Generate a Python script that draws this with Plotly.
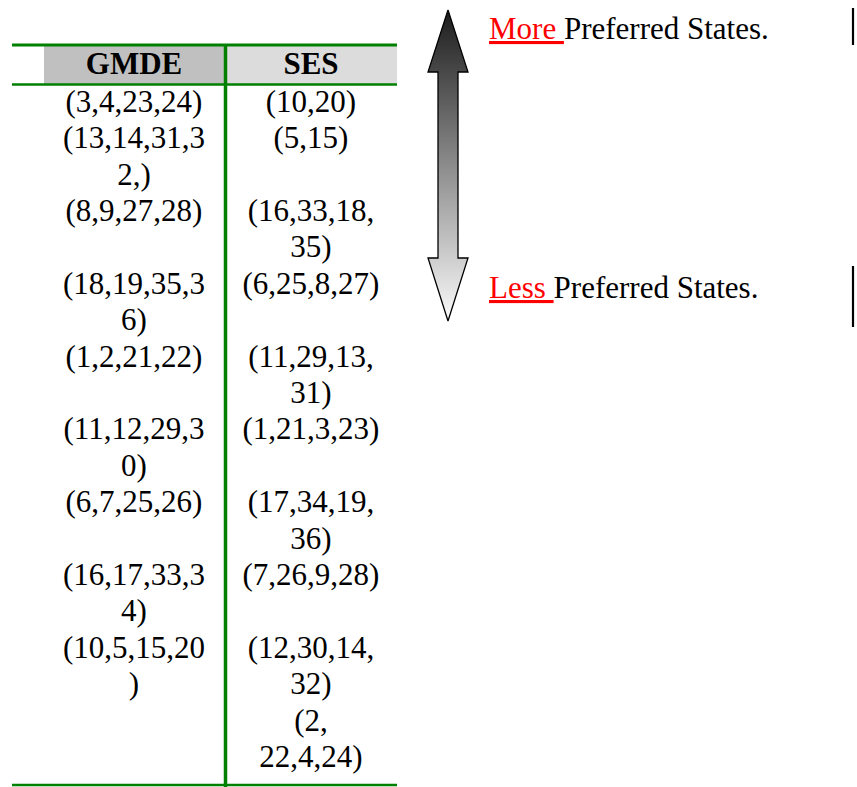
import plotly.graph_objects as go

# ─── Data: states ranked by preference, as they wrap in the table ────
GMDE_CELLS = [
    ["(3,4,23,24)"],
    ["(13,14,31,3", "2,)"],
    ["(8,9,27,28)"],
    ["(18,19,35,3", "6)"],
    ["(1,2,21,22)"],
    ["(11,12,29,3", "0)"],
    ["(6,7,25,26)"],
    ["(16,17,33,3", "4)"],
    ["(10,5,15,20", ")"],
]
SES_CELLS = [
    ["(10,20)"],
    ["(5,15)"],
    ["(16,33,18,", "35)"],
    ["(6,25,8,27)"],
    ["(11,29,13,", "31)"],
    ["(1,21,3,23)"],
    ["(17,34,19,", "36)"],
    ["(7,26,9,28)"],
    ["(12,30,14,", "32)"],
    ["(2,", "22,4,24)"],
]
HEADERS = ["GMDE", "SES"]

GREEN = "#008000"
FONT = "'Liberation Serif', 'Times New Roman', 'DejaVu Serif', serif"
W, H = 857, 787

# layout of the text grid (pixels)
LINE0, LINE_H = 104, 36.4
COL_X = {"GMDE": 134, "SES": 311}


def start_line(i):
    # first row is one line tall, the others two
    return 0 if i == 0 else 1 + 2 * (i - 1)


def column_points(cells, x):
    xs, ys, txt = [], [], []
    for i, cell in enumerate(cells):
        for j, line in enumerate(cell):
            xs.append(x)
            ys.append(LINE0 + LINE_H * (start_line(i) + j))
            txt.append(line)
    return xs, ys, txt


fig = go.Figure()

# header cells
fig.add_shape(type="rect", x0=44, x1=224, y0=46, y1=84,
              fillcolor="#c0c0c0", line_width=0, layer="below")
fig.add_shape(type="rect", x0=227, x1=397, y0=46, y1=84,
              fillcolor="#dcdcdc", line_width=0, layer="below")

# table rules
for y0, w in [(45, 3), (84.5, 2.5), (785, 2.5)]:
    fig.add_shape(type="line", x0=12, x1=397, y0=y0, y1=y0,
                  line=dict(color=GREEN, width=w))
fig.add_shape(type="line", x0=225.5, x1=225.5, y0=44, y1=787,
              line=dict(color=GREEN, width=3.5))

for name in HEADERS:
    fig.add_trace(go.Scatter(
        x=[COL_X[name]], y=[66], mode="text", text=[f"<b>{name}</b>"],
        textfont=dict(family=FONT, size=31, color="black"),
        hoverinfo="skip", showlegend=False,
    ))

for name, cells in [("GMDE", GMDE_CELLS), ("SES", SES_CELLS)]:
    xs, ys, txt = column_points(cells, COL_X[name])
    fig.add_trace(go.Scatter(
        x=xs, y=ys, mode="text", text=txt,
        textfont=dict(family=FONT, size=31, color="black"),
        hoverinfo="skip", showlegend=False,
    ))

# preference arrow
ax = [448, 468, 458, 458, 468, 448, 428, 438, 438, 428, 448]
ay = [10, 72, 72, 258, 258, 321, 258, 258, 72, 72, 10]
fig.add_trace(go.Scatter(
    x=ax, y=ay, mode="lines", fill="toself",
    line=dict(color="black", width=1.3),
    fillgradient=dict(type="vertical",
                      colorscale=[[0, "#fbfbfb"], [1, "#1c1c1c"]]),
    hoverinfo="skip", showlegend=False,
))

for word, y in [("More", 28), ("Less", 287)]:
    fig.add_annotation(
        x=487, y=y, xanchor="left", yanchor="middle", showarrow=False,
        text=f"<span style='color:red'><u>{word}&nbsp;</u></span>Preferred States.",
        font=dict(family=FONT, size=31, color="black"),
    )

# stray frame marks on the right edge
for y0, y1 in [(8, 45), (266, 327)]:
    fig.add_shape(type="line", x0=853, x1=853, y0=y0, y1=y1,
                  line=dict(color="black", width=2.2))

fig.update_xaxes(range=[0, W], visible=False, fixedrange=True)
fig.update_yaxes(range=[H, 0], visible=False, fixedrange=True)
fig.update_layout(
    width=W, height=H, margin=dict(l=0, r=0, t=0, b=0),
    plot_bgcolor="white", paper_bgcolor="white",
)

fig.write_html(
    "out.html",
    config=dict(displayModeBar=False),
    post_script="document.body.style.margin='0';document.body.style.overflow='hidden';",
)
